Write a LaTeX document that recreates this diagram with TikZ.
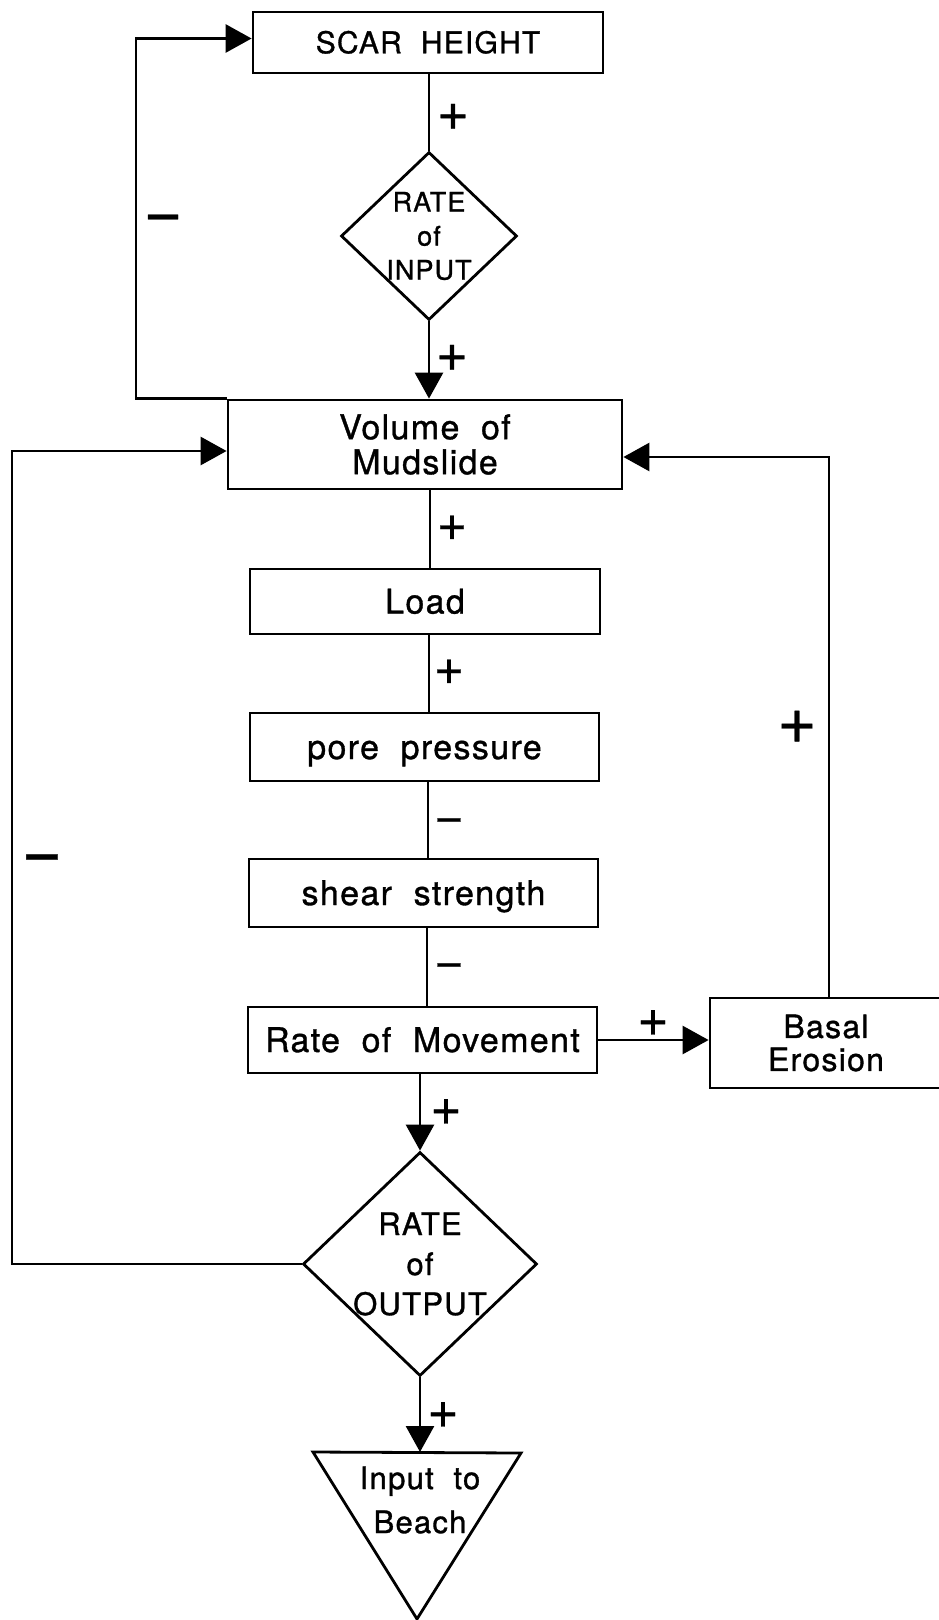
\documentclass[tikz,border=0pt]{standalone}
\usepackage{fontspec}
\setmainfont{TeX Gyre Heros}[LetterSpace=4,WordSpace=2,FakeBold=1]
\newfontfamily\signfont{TeX Gyre Heros}[FakeBold=0.5]
\usetikzlibrary{shapes.geometric,arrows.meta}
\tikzset{
  ln/.style={line width=2.8pt},
  arr/.style={line width=2.8pt,-{Triangle[length=26pt,width=28pt]}},
  box/.style={draw,line width=2.8pt,rectangle,inner sep=0pt,align=center},
  sbox/.style={box,text depth=0pt},
  dia/.style={draw,line width=2.8pt,diamond,inner sep=0pt},
  dtext/.style={align=center,inner sep=0pt},
  sgn/.style={inner sep=0pt},
  plusf/.style={font=\signfont\fontsize{#1}{#1}\selectfont},
  minusf/.style={font=\signfont\fontsize{#1}{#1}\selectfont,text height=0.5*#1 pt,text depth=0pt}
}
\begin{document}
\begin{tikzpicture}[x=1pt,y=-1pt]
\useasboundingbox (0,0) rectangle (939,1620);
% boxes
\node[sbox,font=\fontsize{30}{33}\selectfont,text height=21.5pt,minimum width=350pt,minimum height=61pt] (scar) at (428,42.5) {SCAR HEIGHT};
\node[dia,minimum width=176pt,minimum height=168pt] (rin) at (429,236) {};
\node[dtext,font=\fontsize{27}{34}\selectfont] (rintxt) at (rin.center) {RATE\\of\\INPUT};
\node[box,font=\fontsize{34}{35}\selectfont,minimum width=394pt,minimum height=89pt] (vol) at (425,444.5) {Volume of\\Mudslide};
\node[sbox,font=\fontsize{34}{35}\selectfont,text height=24pt,minimum width=350pt,minimum height=65pt] (load) at (425,601.5) {Load};
\node[sbox,font=\fontsize{34}{35}\selectfont,text height=24pt,minimum width=349pt,minimum height=68pt] (pore) at (424.5,747) {pore pressure};
\node[sbox,font=\fontsize{34}{35}\selectfont,text height=24pt,minimum width=349pt,minimum height=68pt] (shear) at (423.5,893) {shear strength};
\node[sbox,font=\fontsize{34}{35}\selectfont,text height=24pt,minimum width=349pt,minimum height=66pt] (rom) at (422.5,1040) {Rate of Movement};
\node[box,font=\fontsize{32}{33}\selectfont,minimum width=232pt,minimum height=90pt] (basal) at (826,1043) {Basal\\Erosion};
\node[dia,minimum width=234pt,minimum height=224pt] (rout) at (420,1264) {};
\node[dtext,font=\fontsize{31}{40}\selectfont] (routtxt) at (rout.center) {RATE\\of\\OUTPUT};
% triangle
\coordinate (btl) at (313,1452);
\coordinate (btr) at (521,1453);
\coordinate (bbot) at (417,1619);
\coordinate (btop) at (417,1452);
\draw[ln,line join=miter] (btl) -- (btr) -- (bbot) -- cycle;
\node[dtext,font=\fontsize{31}{44}\selectfont] (beach) at (420,1500) {Input to\\Beach};
% helper coordinates for loops
\coordinate (lx) at (136,0);
\coordinate (bx) at (12,0);
% connectors
\draw[ln] (rin.north |- scar.south) -- (rin.north);
\draw[arr] (rin.south) -- (rin.south |- vol.north);
\draw[arr] (vol.north west) -- (vol.north west -| lx) |- ([yshift=4pt]scar.west);
\draw[arr] (rout.west) -- (rout.west -| bx) |- ([yshift=-6.5pt]vol.west);
\draw[arr] ([xshift=3pt]basal.north) |- ([yshift=-12.5pt]vol.east);
\draw[ln] ([xshift=5pt]vol.south) -- ([xshift=5pt]vol.south |- load.north);
\draw[ln] ([xshift=4pt]load.south) -- ([xshift=4pt]load.south |- pore.north);
\draw[ln] ([xshift=3.5pt]pore.south) -- ([xshift=3.5pt]pore.south |- shear.north);
\draw[ln] ([xshift=3.5pt]shear.south) -- ([xshift=3.5pt]shear.south |- rom.north);
\draw[arr] (rout.north |- rom.south) -- (rout.north);
\draw[arr] (rom.east) -- (rom.east -| basal.west);
\draw[arr] (rout.south) -- (rout.south |- btop);
% signs
\node[sgn,plusf=55] (s1) at (453,117) {+};
\node[sgn,plusf=55] (s2) at (452,358) {+};
\node[sgn,minusf=67] (s3) at (163,217) {−};
\node[sgn,plusf=52] (s4) at (452,528) {+};
\node[sgn,plusf=52] (s5) at (449,672) {+};
\node[sgn,minusf=51] (s6) at (449,820) {−};
\node[sgn,minusf=51] (s7) at (449,965) {−};
\node[sgn,plusf=68] (s8) at (797,727) {+};
\node[sgn,minusf=70] (s9) at (42,857) {−};
\node[sgn,plusf=54] (s10) at (653,1023) {+};
\node[sgn,plusf=54] (s11) at (446,1112) {+};
\node[sgn,plusf=54] (s12) at (443,1415) {+};
\end{tikzpicture}
\end{document}
